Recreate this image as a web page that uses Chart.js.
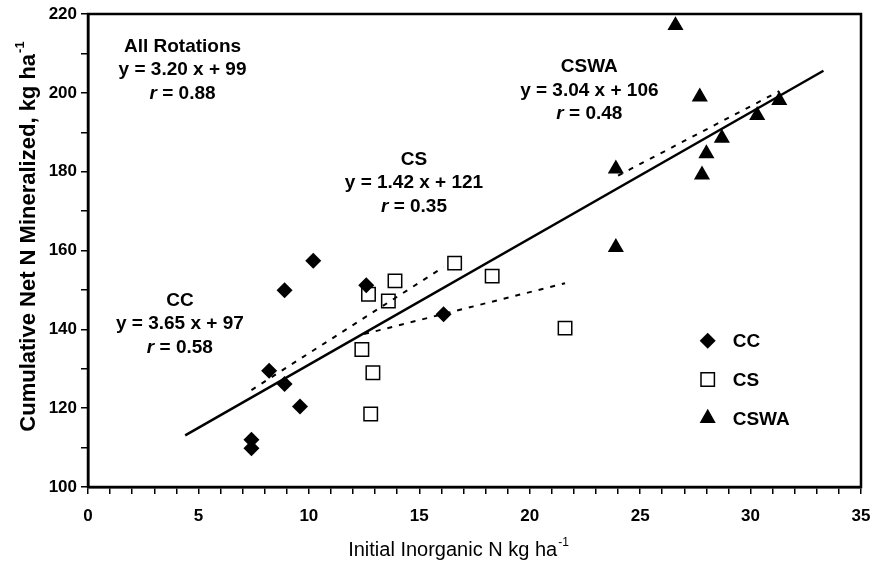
<!DOCTYPE html>
<html>
<head>
<meta charset="utf-8">
<script src="https://cdn.jsdelivr.net/npm/chart.js@4.4.1/dist/chart.umd.min.js"></script>
<style>
  html, body { margin: 0; padding: 0; background: #fff; }
  #wrap { width: 873px; height: 565px; position: relative; }
</style>
</head>
<body>
<div id="wrap"><canvas id="nmin"></canvas></div>
<script>
// values
var ccX = [10.2, 8.9, 12.6, 16.1, 8.2, 8.9, 9.6, 7.4, 7.4];
var ccY = [157.4, 149.9, 151.2, 143.8, 129.5, 126.1, 120.4, 112.0, 109.8];
var csX = [16.6, 18.3, 13.9, 12.7, 13.6, 12.4, 12.9, 12.8, 21.6];
var csY = [156.8, 153.5, 152.3, 148.9, 147.2, 134.9, 129.0, 118.5, 140.3];
var cswaX = [26.6, 27.7, 31.3, 30.3, 28.7, 28.0, 27.8, 23.9, 23.9];
var cswaY = [217.1, 199.0, 198.1, 194.3, 188.5, 184.6, 179.2, 180.7, 160.8];

// fitted lines, end points
var allFitX = [4.4, 33.3];
var allFitY = [113.1, 205.6];
var ccFitX = [7.4, 16.1];
var ccFitY = [124.6, 155.8];
var csFitX = [12.5, 21.6];
var csFitY = [138.8, 151.7];
var cswaFitX = [24.0, 31.3];
var cswaFitY = [179.0, 200.4];

var xTickLabels = [0, 5, 10, 15, 20, 25, 30, 35];
var yTickLabels = [100, 120, 140, 160, 180, 200, 220];

var seriesNames = ['CC', 'CS', 'CSWA'];
var fitTexts = [
  ['All Rotations', 'y = 3.20 x + 99', '0.88'],
  ['CC', 'y = 3.65 x + 97', '0.58'],
  ['CS', 'y = 1.42 x + 121', '0.35'],
  ['CSWA', 'y = 3.04 x + 106', '0.48']
];

function pts(xs, ys) {
  return xs.map(function (x, i) { return { x: x, y: ys[i] }; });
}

function fitLine(xs, ys, dashed) {
  return {
    type: 'line',
    data: pts(xs, ys),
    showLine: true,
    borderColor: '#000',
    borderWidth: dashed ? 2 : 2.5,
    borderDash: dashed ? [5, 7] : [],
    pointRadius: 0,
    fill: false
  };
}

// where the equation blocks sit (data coords of the first line centre)
var notePos = [
  { x: 4.28, y: 211.7 },
  { x: 4.16, y: 147.3 },
  { x: 14.76, y: 183.1 },
  { x: 22.7, y: 206.6 }
];

var FONT = '"Liberation Sans", Arial, sans-serif';

function drawShape(ctx, style, x, y) {
  ctx.save();
  ctx.beginPath();
  if (style === 'rectRot') {
    var r = 8;
    ctx.moveTo(x - r, y); ctx.lineTo(x, y - r); ctx.lineTo(x + r, y); ctx.lineTo(x, y + r);
    ctx.closePath();
    ctx.fillStyle = '#000'; ctx.fill();
  } else if (style === 'rect') {
    var s = 6.7;
    ctx.rect(x - s, y - s, 2 * s, 2 * s);
    ctx.fillStyle = '#fff'; ctx.fill();
    ctx.lineWidth = 1.5; ctx.strokeStyle = '#000'; ctx.stroke();
  } else {
    var t = 9.5;
    ctx.moveTo(x, y - t);
    ctx.lineTo(x + t * 0.85, y + t / 2);
    ctx.lineTo(x - t * 0.85, y + t / 2);
    ctx.closePath();
    ctx.fillStyle = '#000'; ctx.fill();
  }
  ctx.restore();
}

var extras = {
  id: 'extras',
  beforeDraw: function (chart) {
    var c = chart.ctx;
    c.save();
    c.fillStyle = '#fff';
    c.fillRect(0, 0, chart.width, chart.height);
    c.restore();
  },
  afterDraw: function (chart) {
    var c = chart.ctx, a = chart.chartArea;
    var xs = chart.scales.x, ys = chart.scales.y;
    c.save();
    // frame
    c.strokeStyle = '#000';
    c.lineWidth = 2.5;
    c.strokeRect(a.left, a.top, a.right - a.left, a.bottom - a.top);

    // equation blocks
    c.fillStyle = '#000';
    c.textBaseline = 'middle';
    fitTexts.forEach(function (lines, i) {
      var cx = xs.getPixelForValue(notePos[i].x);
      var cy = ys.getPixelForValue(notePos[i].y);
      c.font = 'bold 19px ' + FONT;
      c.textAlign = 'center';
      c.fillText(lines[0], cx, cy);
      c.fillText(lines[1], cx, cy + 23.5);
      // r line with italic r
      var rest = ' = ' + lines[2];
      c.font = 'italic bold 19px ' + FONT;
      var w1 = c.measureText('r').width;
      c.font = 'bold 19px ' + FONT;
      var w2 = c.measureText(rest).width;
      var x0 = cx - (w1 + w2) / 2;
      c.textAlign = 'left';
      c.font = 'italic bold 19px ' + FONT;
      c.fillText('r', x0, cy + 47);
      c.font = 'bold 19px ' + FONT;
      c.fillText(rest, x0 + w1, cy + 47);
    });

    // legend
    var styles = ['rectRot', 'rect', 'triangle'];
    c.font = 'bold 19px ' + FONT;
    c.textAlign = 'left';
    seriesNames.forEach(function (name, i) {
      var ly = 340.7 + i * 38.8;
      drawShape(c, styles[i], 707.7, ly);
      c.fillText(name, 732.7, ly + 1);
    });

    // x title with superscript
    var xt = 'Initial Inorganic N kg ha';
    c.font = '20px ' + FONT;
    var wx = c.measureText(xt).width;
    c.font = '12px ' + FONT;
    var wsup = c.measureText('-1').width;
    var xl = 458 - (wx + wsup) / 2;
    c.textAlign = 'left';
    c.textBaseline = 'alphabetic';
    c.font = '20px ' + FONT;
    c.fillText(xt, xl, 556);
    c.font = '12px ' + FONT;
    c.fillText('-1', xl + wx + 1, 546);

    // y title with superscript
    c.translate(27, 237);
    c.rotate(-Math.PI / 2);
    var yt = 'Cumulative Net N Mineralized, kg ha';
    c.font = 'bold 22px ' + FONT;
    var wy = c.measureText(yt).width;
    c.font = 'bold 13px ' + FONT;
    var wys = c.measureText('-1').width;
    var yl = -(wy + wys) / 2;
    c.font = 'bold 22px ' + FONT;
    c.fillText(yt, yl, 8);
    c.font = 'bold 13px ' + FONT;
    c.fillText('-1', yl + wy + 1, -3);
    c.restore();
  }
};

var ctx = document.getElementById('nmin').getContext('2d');

var data = {
  datasets: [
    fitLine(allFitX, allFitY, false),
    fitLine(ccFitX, ccFitY, true),
    fitLine(csFitX, csFitY, true),
    fitLine(cswaFitX, cswaFitY, true),
    {
      label: seriesNames[0],
      data: pts(ccX, ccY),
      pointStyle: 'rectRot',
      pointRadius: 8,
      backgroundColor: '#000',
      borderColor: '#000',
      borderWidth: 0
    },
    {
      label: seriesNames[1],
      data: pts(csX, csY),
      pointStyle: 'rect',
      pointRadius: 9.5,
      backgroundColor: '#fff',
      borderColor: '#000',
      borderWidth: 1.5
    },
    {
      label: seriesNames[2],
      data: pts(cswaX, cswaY),
      pointStyle: 'triangle',
      pointRadius: 9.3,
      backgroundColor: '#000',
      borderColor: '#000',
      borderWidth: 0
    }
  ]
};

var options = {
  responsive: true,
  maintainAspectRatio: false,
  animation: false,
  events: [],
  layout: { padding: { top: 14, right: 12, left: 0, bottom: 0 } },
  plugins: {
    legend: { display: false },
    tooltip: { enabled: false }
  },
  scales: {
    x: {
      type: 'linear',
      min: 0,
      max: 35,
      afterFit: function (s) { s.height = 78; s.paddingLeft = 0; s.paddingRight = 0; },
      afterBuildTicks: function (s) {
        var t = [];
        for (var v = 0; v <= 35; v++) t.push({ value: v });
        s.ticks = t;
      },
      ticks: {
        autoSkip: false,
        maxRotation: 0,
        padding: 12,
        color: '#000',
        font: { family: FONT, size: 17, weight: 'bold' },
        callback: function (v) { return xTickLabels.indexOf(v) >= 0 ? String(v) : ''; }
      },
      grid: { drawOnChartArea: false, drawTicks: true, tickLength: 7, color: '#000', lineWidth: 1.5 },
      border: { display: true, color: '#000', width: 2.5 }
    },
    y: {
      type: 'linear',
      min: 100,
      max: 220,
      afterFit: function (s) { s.width = 88; s.paddingTop = 0; s.paddingBottom = 0; },
      afterBuildTicks: function (s) {
        var t = [];
        for (var v = 100; v <= 220; v += 10) t.push({ value: v });
        s.ticks = t;
      },
      ticks: {
        autoSkip: false,
        padding: 4,
        color: '#000',
        font: { family: FONT, size: 17, weight: 'bold' },
        callback: function (v) { return yTickLabels.indexOf(v) >= 0 ? String(v) : ''; }
      },
      grid: { drawOnChartArea: false, drawTicks: true, tickLength: 7, color: '#000', lineWidth: 1.5 },
      border: { display: true, color: '#000', width: 2.5 }
    }
  }
};

var graph = new Chart(ctx, { type: 'scatter', data: data, options: options, plugins: [extras] });
</script>
</body>
</html>
